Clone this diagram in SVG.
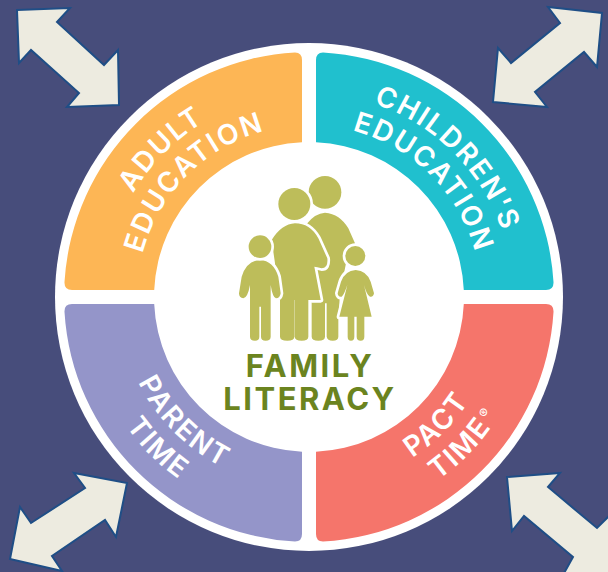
<svg xmlns="http://www.w3.org/2000/svg" width="608" height="572" viewBox="0 0 608 572">
<style>
.arrow{fill:#edebe0;stroke:#1f4e86;stroke-width:2;stroke-linejoin:miter}
.lbl{font-family:"Inter","Liberation Sans",sans-serif;font-weight:600;font-size:28px;fill:#fff;letter-spacing:2px;text-anchor:middle}
.title{font-family:"Inter","Liberation Sans",sans-serif;font-weight:700;font-size:31px;fill:#6b841f;text-anchor:middle;letter-spacing:2.5px}
.fig{fill:#bdbd5a;stroke:#fff;stroke-width:16;paint-order:stroke;stroke-linejoin:round}
.guide{fill:none}
</style>
<defs>
<path id="orangeOuter" class="guide" d="M105,297A204,204 0 0 1 309,93"/>
<path id="orangeInner" class="guide" d="M137,297A172,172 0 0 1 309,125"/>
<path id="tealOuter" class="guide" d="M309,93A204,204 0 0 1 513,297"/>
<path id="tealInner" class="guide" d="M309,125A172,172 0 0 1 481,297"/>
<path id="pinkOuter" class="guide" d="M309,521A224,224 0 0 0 533,297"/>
<path id="pinkInner" class="guide" d="M309,488A191,191 0 0 0 500,297"/>
<path id="blueOuter" class="guide" d="M85,297A224,224 0 0 0 309,521"/>
<path id="blueInner" class="guide" d="M118,297A191,191 0 0 0 309,488"/>
</defs>
<rect id="background" width="608" height="572" fill="#474d7b"/>
<g id="connectors">
<polygon class="arrow" points="17,10 70,8 57,22 104,65 118,50 119,105 67,107 79,93 31,50 19,63"/>
<polygon class="arrow" points="548,7 602,13 597,67 584,52 535,92 547,107 493,102 498,48 511,63 560,23"/>
<polygon class="arrow" points="74,473 127,483 116,537 105,520 52,556 62,571 10,559 20,507 31,523 85,488"/>
<polygon class="arrow" points="507,477 560,473 548,487 597,528 612,513 618,575 563,575 573,557 524,516 512,531"/>
</g>
<circle id="ring" cx="309" cy="297" r="254" fill="#fff"/>
<g id="adult-education">
<path fill="#fdb655" d="M302,142.200V60Q302,52.500 295,52.400A245,245 0 0 0 64.500,282Q64.100,290 72,290H154.200A155,155 0 0 1 302,142.200Z"/>
<text class="lbl"><textPath href="#orangeOuter" startOffset="50%">ADULT</textPath></text>
<text class="lbl"><textPath href="#orangeInner" startOffset="50%">EDUCATION</textPath></text>
</g>
<g id="childrens-education">
<path fill="#20c0ce" d="M316,142.200V60Q316,52.500 323,52.400A245,245 0 0 1 553.500,282Q553.900,290 546,290H463.800A155,155 0 0 0 316,142.200Z"/>
<text class="lbl"><textPath href="#tealOuter" startOffset="50%">CHILDREN'S</textPath></text>
<text class="lbl"><textPath href="#tealInner" startOffset="50%">EDUCATION</textPath></text>
</g>
<g id="pact-time">
<path fill="#f5756b" d="M316,451.800V534Q316,541.500 323,541.600A245,245 0 0 0 553.500,312Q553.900,304 546,304H463.800A155,155 0 0 1 316,451.800Z"/>
<text class="lbl"><textPath href="#pinkInner" startOffset="50%">PACT</textPath></text>
<text class="lbl"><textPath href="#pinkOuter" startOffset="50%">TIME</textPath></text>
<text x="0" y="0" transform="translate(484 413) rotate(-45)" font-family="Inter,'Liberation Sans',sans-serif" font-size="13" fill="#fff" text-anchor="middle" dominant-baseline="central">®</text>
</g>
<g id="parent-time">
<path fill="#9495c9" d="M302,451.800V534Q302,541.500 295,541.600A245,245 0 0 1 64.500,312Q64.100,304 72,304H154.200A155,155 0 0 0 302,451.800Z"/>
<text class="lbl"><textPath href="#blueInner" startOffset="50%">PARENT</textPath></text>
<text class="lbl"><textPath href="#blueOuter" startOffset="50%">TIME</textPath></text>
</g>
<g id="family-literacy">
<g transform="translate(200 160) scale(.33333)">
<path class="fig" d="M322,190Q345,160 375,158Q420,162 445,205L465,250L440,300L420,400L415,480V530Q415,542 398,542Q382,542 380,530V430H375V530Q375,542 355,542Q335,542 335,530V430L300,300Z"/>
<circle class="fig" cx="375" cy="97" r="49"/>
<path class="fig" d="M285,190Q330,190 355,235L382,295Q385,325 365,325Q350,320 343,320L362,420L325,420V530Q325,542 305,542Q285,542 284,530V420H283V530Q283,542 262,542Q240,542 240,530V420H230L225,310L215,240Q245,192 285,190Z"/>
<circle class="fig" cx="283" cy="132" r="48"/>
<path class="fig" d="M467,330Q500,332 512,365L522,400Q520,412 510,410Q500,405 492,375L515,470H493V530Q493,542 482,542Q470,542 470,530V470H463V530Q463,542 453,542Q443,542 443,530V470H418L442,375Q432,405 425,410Q414,412 413,400L423,365Q435,332 467,330Z"/>
<circle class="fig" cx="466" cy="288" r="30"/>
<path class="fig" d="M180,300Q220,302 235,350L242,400Q240,415 228,415Q218,413 212,375V530Q212,542 197,542Q183,542 183,530V440H178V530Q178,542 165,542Q150,542 150,530V375Q143,413 130,415Q117,413 117,400L125,350Q140,302 180,300Z"/>
<circle class="fig" cx="180" cy="260" r="34"/>
</g>
<text class="title" x="310" y="377">FAMILY</text>
<text class="title" x="310" y="410">LITERACY</text>
</g>
</svg>
